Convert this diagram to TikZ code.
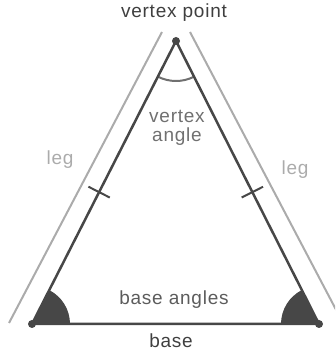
\documentclass[tikz,border=0pt]{standalone}
\usepackage{fontspec}
\newfontfamily\lblfont[LetterSpace=4]{Liberation Sans}
\usetikzlibrary{angles,calc}
\definecolor{edgedark}{HTML}{474747}
\definecolor{leggray}{HTML}{ABABAB}
\definecolor{arcgray}{HTML}{707070}
\definecolor{textdark}{HTML}{3F3F3F}
\tikzset{
  side/.style={edgedark, line width=2.5pt, line join=round},
  legline/.style={leggray, line width=2pt},
  tickmark/.style={edgedark, line width=2pt},
  lbl/.style={font=\lblfont\fontsize{19}{19}\selectfont, inner sep=0pt, anchor=base},
}
\begin{document}
\begin{tikzpicture}[x=1pt,y=1pt]

  \clip (0,0) rectangle (335,351);
  \def\dotradius{4}

  % Corners of the triangle
  \coordinate (A) at (176,310);
  \coordinate (B) at (32,27);
  \coordinate (C) at (319,27);

  % Base angles, filled sectors
  \pic[fill=edgedark, angle radius=38pt] {angle = C--B--A};
  \pic[fill=edgedark, angle radius=38pt] {angle = A--C--B};

  % Vertex angle arc
  \pic[draw=arcgray, line width=2pt, angle radius=40pt] {angle = B--A--C};

  % Leg lines beside the two sides
  \coordinate (gl1) at (162,319);
  \coordinate (gl2) at (9,28);
  \coordinate (gr1) at (190,319);
  \coordinate (gr2) at (343,28);
  \draw[legline] (gl1) -- (gl2);
  \draw[legline] (gr1) -- (gr2);

  % Sides of the triangle
  \draw[side] (A) -- (B) -- (C) -- cycle;

  % Tick marks for equal legs
  \coordinate (tl) at ($(A)!0.534!(B)$);
  \coordinate (tr) at ($(A)!0.534!(C)$);
  \draw[tickmark] ($(tl)!12pt!90:(A)$) -- ($(tl)!12pt!-90:(A)$);
  \draw[tickmark] ($(tr)!12pt!90:(A)$) -- ($(tr)!12pt!-90:(A)$);

  % Corner dots
  \foreach \p in {A,B,C}{
    \fill[edgedark] (\p) circle (\dotradius);
  }

  % Labels
  \node[lbl, text=textdark] (vpoint) at (174,333) {vertex point};
  \node[lbl, text=arcgray, align=center] (vangle) at (177,209) {vertex\\angle};
  \node[lbl, text=leggray] (legl) at (60,186) {leg};
  \node[lbl, text=leggray] (legr) at (295,176) {leg};
  \node[lbl, text=textdark!85!white] (bangles) at (174,46) {base angles};
  \node[lbl, text=textdark] (base) at (171,4) {base};

\end{tikzpicture}
\end{document}
